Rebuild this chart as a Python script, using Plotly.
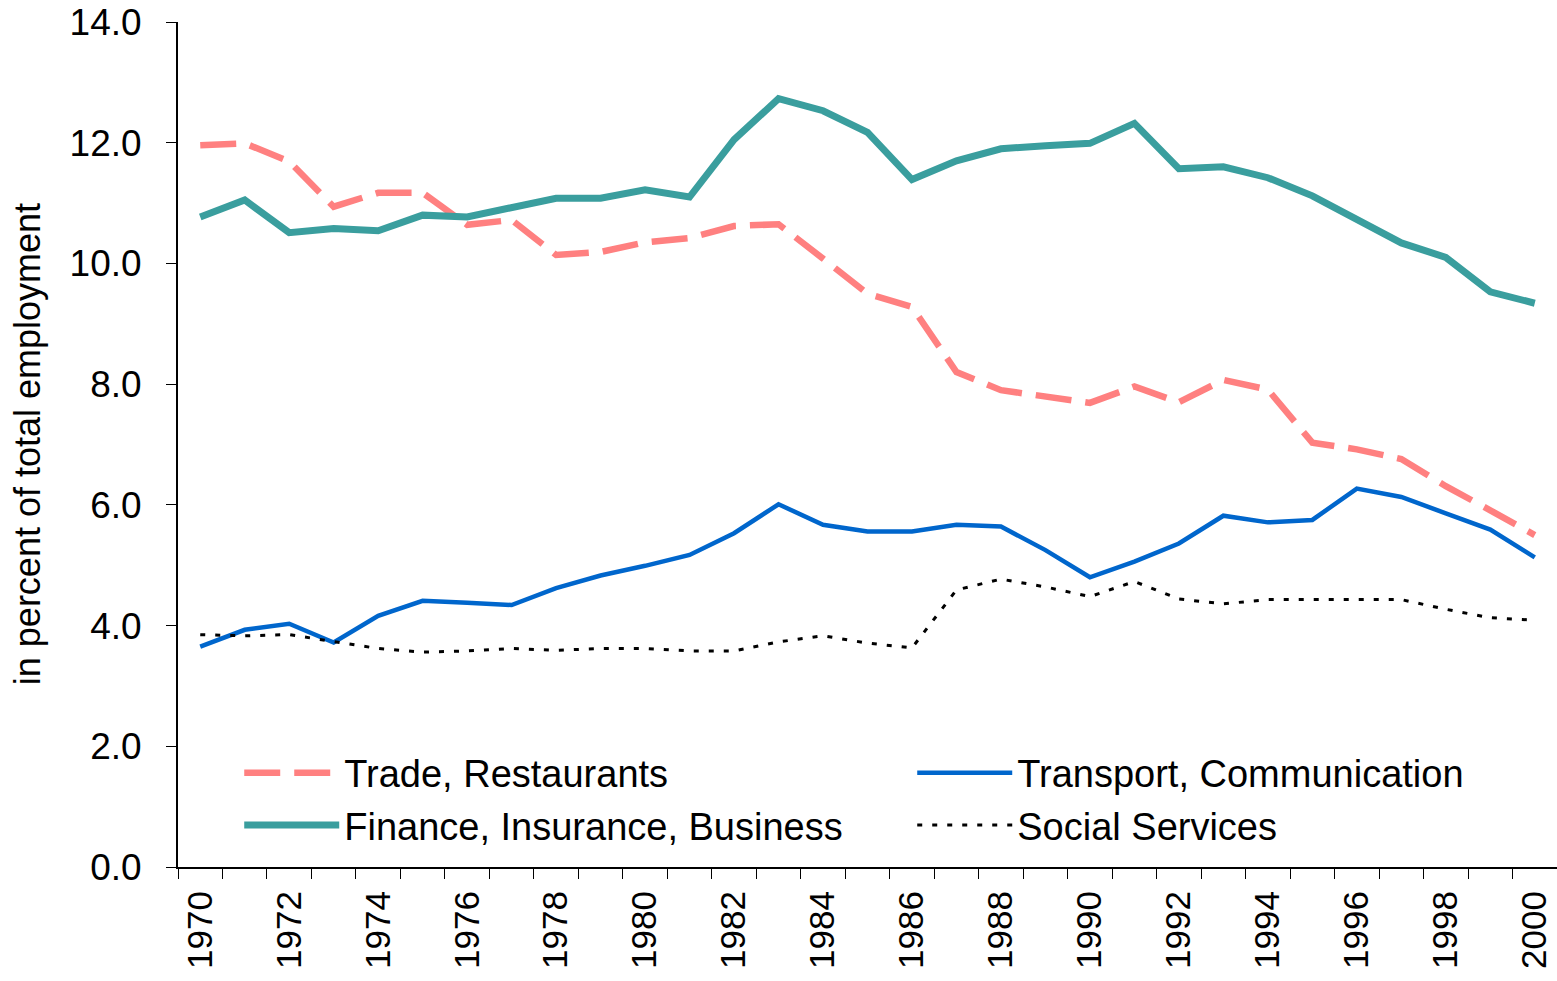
import plotly.graph_objects as go

years = list(range(1970, 2001))
tick_years = list(range(1970, 2001, 2))
tick_labels = [str(y) for y in tick_years]

trade = [11.96, 11.99, 11.69, 10.94, 11.17, 11.17, 10.64, 10.72, 10.14, 10.19,
         10.35, 10.42, 10.62, 10.65, 10.08, 9.50, 9.28, 8.20, 7.90, 7.80,
         7.69, 7.96, 7.70, 8.07, 7.91, 7.03, 6.92, 6.76, 6.31, 5.91, 5.50]
finance = [10.77, 11.05, 10.51, 10.58, 10.54, 10.80, 10.77, 10.93, 11.08, 11.08,
           11.22, 11.10, 12.05, 12.73, 12.53, 12.17, 11.39, 11.70, 11.90, 11.95,
           11.99, 12.32, 11.57, 11.60, 11.42, 11.12, 10.73, 10.34, 10.10, 9.53, 9.34]
transport = [3.65, 3.93, 4.03, 3.72, 4.16, 4.41, 4.38, 4.34, 4.62, 4.83,
             4.99, 5.17, 5.53, 6.01, 5.67, 5.56, 5.56, 5.67, 5.64, 5.25,
             4.80, 5.06, 5.36, 5.82, 5.71, 5.75, 6.27, 6.13, 5.86, 5.59, 5.13]
social = [3.85, 3.83, 3.85, 3.73, 3.62, 3.56, 3.58, 3.62, 3.59, 3.62,
          3.62, 3.58, 3.58, 3.73, 3.83, 3.71, 3.63, 4.59, 4.77, 4.64,
          4.48, 4.73, 4.44, 4.36, 4.43, 4.43, 4.43, 4.43, 4.27, 4.13, 4.09]

FONT = "Liberation Sans, Arial, sans-serif"

fig = go.Figure()
fig.add_trace(go.Scatter(x=years, y=trade, mode="lines", name="Trade, Restaurants",
                         line=dict(color="#FF8080", width=6.5, dash="36px,14px")))
fig.add_trace(go.Scatter(x=years, y=transport, mode="lines", name="Transport, Communication",
                         line=dict(color="#0066CC", width=4.5)))
fig.add_trace(go.Scatter(x=years, y=finance, mode="lines", name="Finance, Insurance, Business",
                         line=dict(color="#3A9E9E", width=7)))
fig.add_trace(go.Scatter(x=years, y=social, mode="lines", name="Social Services",
                         line=dict(color="black", width=3, dash="5px,10px")))

fig.update_layout(
    width=1557, height=981,
    margin=dict(l=178, r=0, t=22, b=114, autoexpand=False),
    paper_bgcolor="white", plot_bgcolor="white",
    font=dict(family=FONT, size=35, color="black"),
    showlegend=True,
    legend=dict(
        orientation="h", x=0.0444, y=0.1486, xanchor="left", yanchor="top",
        bgcolor="rgba(0,0,0,0)", font=dict(size=38, family=FONT),
        entrywidthmode="pixels", entrywidth=563, itemwidth=95,
        traceorder="normal", tracegroupgap=0,
    ),
    xaxis=dict(
        range=[1969.5, 2000.5], showgrid=False, zeroline=False,
        showline=True, linecolor="black", linewidth=2,
        tickmode="array", tickvals=tick_years, ticktext=tick_labels,
        tickangle=-90, ticks="", ticklabelstandoff=8, ticklabeloverflow="allow",
        tickfont=dict(size=35, family=FONT),
        minor=dict(tickmode="linear", tick0=1969.5, dtick=1, ticks="outside",
                   ticklen=10, tickwidth=1.2, tickcolor="black", showgrid=False),
    ),
    yaxis=dict(
        range=[0, 14], dtick=2, tick0=0, tickformat=".1f", showgrid=False,
        zeroline=False, showline=True, linecolor="black", linewidth=2,
        ticks="outside", ticklen=10, tickwidth=1.2, tickcolor="black",
        ticklabelstandoff=17, ticklabeloverflow="allow",
        tickfont=dict(size=37, family=FONT),
    ),
    annotations=[dict(
        text="in percent of total employment", textangle=-90,
        xref="paper", yref="paper", x=-0.109, y=0.5,
        xanchor="center", yanchor="middle", showarrow=False,
        font=dict(size=36, family=FONT, color="black"),
    )],
)

fig.write_html("out.html", config={"displayModeBar": False},
               post_script="document.body.style.margin='0';document.body.style.overflow='hidden';")
